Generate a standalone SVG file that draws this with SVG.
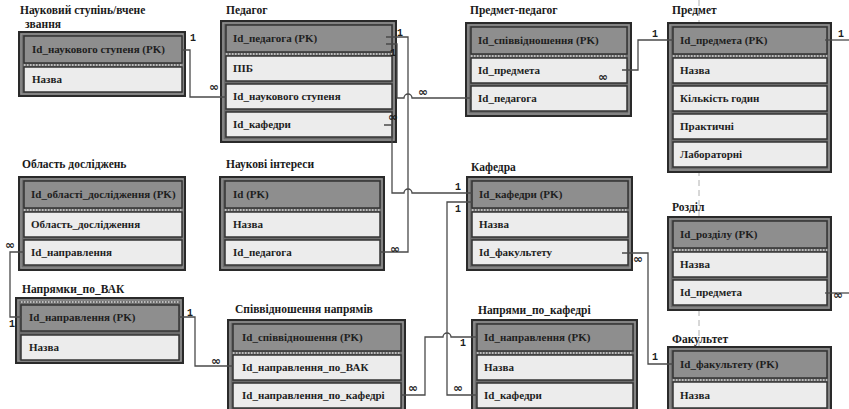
<svg xmlns="http://www.w3.org/2000/svg" width="849" height="409" viewBox="0 0 849 409">
<style>
.title{font-family:"Liberation Serif",serif;font-weight:bold;font-size:11.5px;fill:#1a1a1a}
.box{fill:#6c6c6c;stroke:#2a2a2a;stroke-width:2}
.bevel{fill:none;stroke:#9a9a9a;stroke-width:1}
.pk{fill:#8e8e8e;stroke:#333;stroke-width:1.5}
.row{fill:#ececec;stroke:#333;stroke-width:1.5}
.sep{stroke:#d6d6d6;stroke-width:1.5;stroke-dasharray:1.5 1.5}
.t{font-family:"Liberation Serif",serif;font-weight:bold;font-size:11px;fill:#1e1e1e}
.c{fill:none;stroke:#4a4a4a;stroke-width:1.3}
.lb{font-family:"Liberation Mono",monospace;font-weight:bold;font-size:10px;fill:#1e1e1e;text-anchor:middle}
.inf{font-family:"DejaVu Sans",sans-serif;font-weight:bold;font-size:12px;fill:#1e1e1e;text-anchor:middle}
.dash{stroke:#b0b0b0;stroke-width:1;stroke-dasharray:6 4}
</style>
<rect width="849" height="409" fill="#fff"/>
<line class="dash" x1="699" y1="0" x2="699" y2="409"/>

<g id="naukovyi-stupin">
<text class="title" x="20" y="14">Науковий ступінь/вчене</text>
<text class="title" x="25" y="28">звання</text>
<rect class="box" x="19" y="32" width="166" height="64"/>
<rect class="bevel" x="21" y="34" width="162" height="60"/>
<rect class="pk" x="24" y="36" width="158" height="27"/>
<line class="sep" x1="24" y1="65" x2="182" y2="65"/>
<rect class="row" x="24" y="67" width="158" height="25"/>
<text class="t" x="32" y="53">Id_наукового ступеня (PK)</text>
<text class="t" x="32" y="83">Назва</text>
</g>

<g id="pedagog">
<text class="title" x="226" y="14">Педагог</text>
<rect class="box" x="221" y="21" width="175" height="121"/>
<rect class="bevel" x="223" y="23" width="171" height="117"/>
<rect class="pk" x="226" y="25" width="166" height="27"/>
<line class="sep" x1="226" y1="54" x2="392" y2="54"/>
<rect class="row" x="226" y="56" width="166" height="25"/>
<rect class="row" x="226" y="84" width="166" height="25"/>
<rect class="row" x="226" y="112" width="166" height="25"/>
<text class="t" x="233" y="42">Id_педагога (PK)</text>
<text class="t" x="233" y="72">ПІБ</text>
<text class="t" x="233" y="100">Id_наукового ступеня</text>
<text class="t" x="233" y="128">Id_кафедри</text>
</g>

<g id="predmet-pedagog">
<text class="title" x="470" y="14">Предмет-педагог</text>
<rect class="box" x="466" y="23" width="165" height="93"/>
<rect class="bevel" x="468" y="25" width="161" height="89"/>
<rect class="pk" x="471" y="27" width="156" height="27"/>
<line class="sep" x1="471" y1="56" x2="627" y2="56"/>
<rect class="row" x="471" y="58" width="156" height="25"/>
<rect class="row" x="471" y="86" width="156" height="25"/>
<text class="t" x="478" y="44">Id_співвідношення (PK)</text>
<text class="t" x="478" y="74">Id_предмета</text>
<text class="t" x="478" y="102">Id_педагога</text>
</g>

<g id="predmet">
<text class="title" x="672" y="14">Предмет</text>
<rect class="box" x="668" y="23" width="163" height="149"/>
<rect class="bevel" x="670" y="25" width="159" height="145"/>
<rect class="pk" x="673" y="27" width="154" height="27"/>
<line class="sep" x1="673" y1="56" x2="827" y2="56"/>
<rect class="row" x="673" y="58" width="154" height="25"/>
<rect class="row" x="673" y="86" width="154" height="25"/>
<rect class="row" x="673" y="114" width="154" height="25"/>
<rect class="row" x="673" y="142" width="154" height="25"/>
<text class="t" x="680" y="44">Id_предмета (PK)</text>
<text class="t" x="680" y="74">Назва</text>
<text class="t" x="680" y="102">Кількість годин</text>
<text class="t" x="680" y="130">Практичні</text>
<text class="t" x="680" y="158">Лабораторні</text>
</g>

<g id="oblast-doslidzhen">
<text class="title" x="22" y="168">Область досліджень</text>
<rect class="box" x="19" y="177" width="166" height="93"/>
<rect class="bevel" x="21" y="179" width="162" height="89"/>
<rect class="pk" x="24" y="181" width="158" height="27"/>
<line class="sep" x1="24" y1="210" x2="182" y2="210"/>
<rect class="row" x="24" y="212" width="158" height="25"/>
<rect class="row" x="24" y="240" width="158" height="25"/>
<text class="t" x="31" y="198">Id_області_дослідження (PK)</text>
<text class="t" x="31" y="228">Область_дослідження</text>
<text class="t" x="31" y="256">Id_направлення</text>
</g>

<g id="naukovi-interesy">
<text class="title" x="226" y="168">Наукові інтереси</text>
<rect class="box" x="220" y="177" width="164" height="93"/>
<rect class="bevel" x="222" y="179" width="160" height="89"/>
<rect class="pk" x="225" y="181" width="155" height="27"/>
<line class="sep" x1="225" y1="210" x2="380" y2="210"/>
<rect class="row" x="225" y="212" width="155" height="25"/>
<rect class="row" x="225" y="240" width="155" height="25"/>
<text class="t" x="233" y="198">Id (PK)</text>
<text class="t" x="233" y="228">Назва</text>
<text class="t" x="233" y="256">Id_педагога</text>
</g>

<g id="kafedra">
<text class="title" x="471" y="171">Кафедра</text>
<rect class="box" x="467" y="177" width="165" height="93"/>
<rect class="bevel" x="469" y="179" width="161" height="89"/>
<rect class="pk" x="472" y="181" width="156" height="27"/>
<line class="sep" x1="472" y1="210" x2="628" y2="210"/>
<rect class="row" x="472" y="212" width="156" height="25"/>
<rect class="row" x="472" y="240" width="156" height="25"/>
<text class="t" x="479" y="198">Id_кафедри (PK)</text>
<text class="t" x="479" y="228">Назва</text>
<text class="t" x="479" y="256">Id_факультету</text>
</g>

<g id="rozdil">
<text class="title" x="672" y="211">Розділ</text>
<rect class="box" x="668" y="217" width="163" height="93"/>
<rect class="bevel" x="670" y="219" width="159" height="89"/>
<rect class="pk" x="673" y="221" width="154" height="27"/>
<line class="sep" x1="673" y1="250" x2="827" y2="250"/>
<rect class="row" x="673" y="252" width="154" height="25"/>
<rect class="row" x="673" y="280" width="154" height="25"/>
<text class="t" x="680" y="238">Id_розділу (PK)</text>
<text class="t" x="680" y="268">Назва</text>
<text class="t" x="680" y="296">Id_предмета</text>
</g>

<g id="napryamky-po-vak">
<text class="title" x="22" y="293">Напрямки_по_ВАК</text>
<rect class="box" x="16" y="298" width="167" height="65"/>
<rect class="bevel" x="18" y="300" width="163" height="61"/>
<line class="sep" x1="21" y1="302" x2="179" y2="302"/>
<rect class="pk" x="21" y="305" width="158" height="26"/>
<rect class="row" x="21" y="335" width="158" height="25"/>
<text class="t" x="29" y="321">Id_направлення (PK)</text>
<text class="t" x="29" y="351">Назва</text>
</g>

<g id="spivvidnoshennya-napryamiv">
<text class="title" x="235" y="313">Співвідношення напрямів</text>
<rect class="box" x="228" y="320" width="177" height="95"/>
<rect class="bevel" x="230" y="322" width="173" height="91"/>
<rect class="pk" x="233" y="324" width="168" height="27"/>
<line class="sep" x1="233" y1="353" x2="401" y2="353"/>
<rect class="row" x="233" y="355" width="168" height="25"/>
<rect class="row" x="233" y="383" width="168" height="25"/>
<text class="t" x="242" y="341">Id_співвідношення (PK)</text>
<text class="t" x="242" y="371">Id_направлення_по_ВАК</text>
<text class="t" x="242" y="399">Id_направлення_по_кафедрі</text>
</g>

<g id="napryamy-po-kafedri">
<text class="title" x="478" y="314">Напрями_по_кафедрі</text>
<rect class="box" x="472" y="320" width="165" height="95"/>
<rect class="bevel" x="474" y="322" width="161" height="91"/>
<rect class="pk" x="477" y="324" width="156" height="27"/>
<line class="sep" x1="477" y1="353" x2="633" y2="353"/>
<rect class="row" x="477" y="355" width="156" height="25"/>
<rect class="row" x="477" y="383" width="156" height="25"/>
<text class="t" x="484" y="341">Id_направлення (PK)</text>
<text class="t" x="484" y="371">Назва</text>
<text class="t" x="484" y="399">Id_кафедри</text>
</g>

<g id="fakultet">
<text class="title" x="672" y="343">Факультет</text>
<rect class="box" x="668" y="347" width="163" height="70"/>
<rect class="bevel" x="670" y="349" width="159" height="66"/>
<rect class="pk" x="673" y="351" width="154" height="27"/>
<line class="sep" x1="673" y1="380" x2="827" y2="380"/>
<rect class="row" x="673" y="382" width="154" height="26"/>
<text class="t" x="680" y="368">Id_факультету (PK)</text>
<text class="t" x="680" y="399">Назва</text>
</g>

<g id="connectors">
<path class="c" d="M182,50 H190 V97 H226"/>
<path class="c" d="M386,37 H408 V252 H380"/>
<path class="c" d="M386,44 H397 V98 H404 a4,4 0 0 1 8,0 H471"/>
<path class="c" d="M384,125 H392 V193 H404 a4,4 0 0 1 8,0 H472"/>
<path class="c" d="M472,202 H447 V395 H477"/>
<path class="c" d="M401,395 H425 V337 H443 a4,4 0 0 1 8,0 H477"/>
<path class="c" d="M622,253 H648 V364 H673"/>
<path class="c" d="M622,70 H638 V40 H673"/>
<path class="c" d="M24,252 H10 V317 H21"/>
<path class="c" d="M179,317 H195 V366 H233"/>
<path class="c" d="M825,40 H849"/>
<path class="c" d="M825,293 H849"/>

<text class="lb" x="193" y="41">1</text>
<text class="inf" x="214" y="91">∞</text>
<text class="lb" x="400" y="36">1</text>
<text class="inf" x="395" y="253">∞</text>
<text class="lb" x="393" y="56">1</text>
<text class="inf" x="423" y="96">∞</text>
<text class="inf" x="393" y="121">∞</text>
<text class="lb" x="458" y="190">1</text>
<text class="lb" x="458" y="212">1</text>
<text class="inf" x="458" y="392">∞</text>
<text class="inf" x="413" y="392">∞</text>
<text class="lb" x="463" y="346">1</text>
<text class="inf" x="638" y="263">∞</text>
<text class="lb" x="655" y="360">1</text>
<text class="lb" x="655" y="37">1</text>
<text class="inf" x="603" y="81">∞</text>
<text class="inf" x="10" y="249">∞</text>
<text class="lb" x="12" y="327">1</text>
<text class="lb" x="190" y="316">1</text>
<text class="inf" x="216" y="365">∞</text>
<text class="lb" x="841" y="37">1</text>
<text class="inf" x="838" y="299">∞</text>
</g>
</svg>
